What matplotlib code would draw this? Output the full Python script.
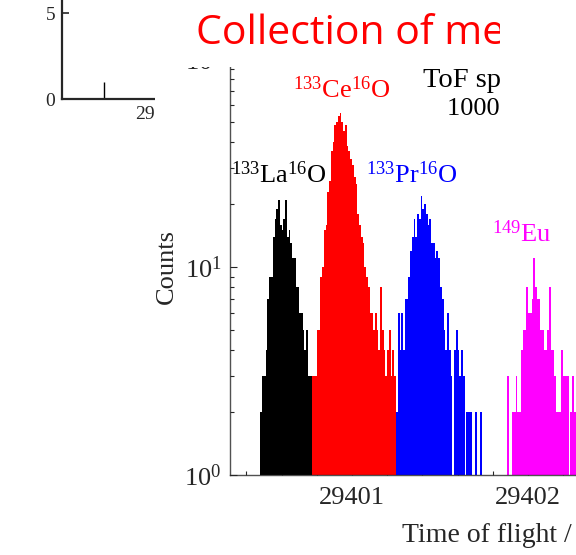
import numpy as np
import matplotlib
matplotlib.use("Agg")
import matplotlib.pyplot as plt
from matplotlib.patches import Rectangle
from matplotlib.ticker import MultipleLocator


# ---------------------------------------------------
# DATA (counts per 0.01 ns bin)
# ---------------------------------------------------
bin_width = 0.01

la_start = 29400.48
la_counts = [2, 3, 3, 4, 7, 9, 9, 14, 17, 19, 21, 16, 15, 17, 21, 14, 15, 13,
             11, 11, 8, 8, 6, 6, 5, 4, 5, 3, 3]

ce_start = 29400.77
ce_counts = [3, 3, 3, 5, 5, 9, 10, 15, 16, 23, 26, 36, 40, 48, 50, 53, 55, 50,
             45, 48, 38, 36, 33, 31, 27, 25, 18, 16, 14, 13, 10, 9, 8, 6, 6, 5,
             6, 5, 4, 8, 5, 4, 3, 4, 5, 3, 4, 3]

pr_start = 29401.25
pr_counts = [2, 6, 4, 6, 4, 7, 7, 9, 12, 14, 17, 14, 18, 17, 22, 19, 20, 18,
             16, 17, 13, 13, 11, 12, 11, 8, 7, 5, 4, 6, 4, 3, 1, 4, 5, 4, 3, 4,
             3, 1, 2, 2, 2, 1, 1, 2, 1, 1, 2, 1]

eu_start = 29401.88
eu_counts = [3, 1, 1, 2, 2, 3, 2, 2, 4, 5, 5, 8, 6, 6, 7, 11, 8, 7, 7, 5, 5, 4,
             4, 5, 8, 4, 4, 3, 2, 2, 2, 4, 3, 3, 3, 1, 2, 3, 2, 2, 2, 1, 2, 1, 1]

# small inset histogram (only one bar visible)
inset_x = [29388.6]
inset_counts = [1]

labels = [r"$^{133}$La$^{16}$O", r"$^{133}$Ce$^{16}$O",
          r"$^{133}$Pr$^{16}$O", r"$^{149}$Eu"]
label_x = [29400.585, 29400.94, 29401.34, 29401.966]
label_y = [25.5, 65.0, 25.5, 13.2]
colors = ["black", "red", "blue", "magenta"]

W, H = 576, 555
DARK = "#262626"


def fx(px):
    return px / W


def fy(py):
    return 1 - py / H


plt.rcParams["font.family"] = ["Liberation Serif", "DejaVu Serif"]
plt.rcParams["mathtext.fontset"] = "custom"
plt.rcParams["mathtext.rm"] = "Liberation Serif"
plt.rcParams["mathtext.it"] = "Liberation Serif:italic"
plt.rcParams["mathtext.bf"] = "Liberation Serif:bold"

fig = plt.figure(figsize=(W / 100, H / 100), dpi=100)

# ---------------------------------------------------
# INSET (partly hidden behind the main plot)
# ---------------------------------------------------
ax_in = fig.add_axes([fx(62), fy(99), 196 / W, 103 / H], zorder=0)
ax_in.vlines(inset_x, 0, inset_counts, color="black", lw=1.0)
ax_in.set_xlim(29380, 29420)
ax_in.set_ylim(0, 6)
ax_in.set_xticks([29400])
ax_in.set_xticklabels(["29400"])
ax_in.set_yticks([0, 5])
for side in ["top", "right"]:
    ax_in.spines[side].set_visible(False)
for side in ["left", "bottom"]:
    ax_in.spines[side].set_linewidth(1.6)
    ax_in.spines[side].set_color(DARK)
ax_in.tick_params(direction="in", length=5, width=1.2, labelsize=14,
                  colors=DARK, pad=5)

# white slide area covering the inset
fig.add_artist(Rectangle((fx(155), 0), 1 - fx(155), 1, transform=fig.transFigure,
                         facecolor="white", edgecolor="none", zorder=1))

# ---------------------------------------------------
# MAIN TOF SPECTRUM
# ---------------------------------------------------
ax = fig.add_axes([fx(230), fy(475), 470 / W, 416 / H], zorder=2)
starts = [la_start, ce_start, pr_start, eu_start]
series = [la_counts, ce_counts, pr_counts, eu_counts]
for start, counts, col in zip(starts, series, colors):
    edges = start + bin_width * np.arange(len(counts) + 1)
    ax.stairs(counts, edges, fill=True, baseline=1, color=col, lw=0, zorder=2)

ax.set_yscale("log")
ax.set_ylim(1, 100)
ax.set_xlim(29400.307, 29402.977)
ax.xaxis.set_major_locator(MultipleLocator(1))
ax.xaxis.set_minor_locator(MultipleLocator(0.2))
ax.xaxis.get_major_formatter().set_useOffset(False)
ax.set_axisbelow(True)
ax.tick_params(which="both", direction="in", colors=DARK, labelsize=19,
               top=True, right=True)
ax.tick_params(which="major", length=5, width=0.8)
ax.tick_params(which="minor", length=2.8, width=0.8)
ax.tick_params(axis="x", pad=9)
ax.tick_params(axis="y", pad=6)
for sp in ax.spines.values():
    sp.set_color(DARK)
    sp.set_linewidth(1.0)
    sp.set_alpha(0.8)

ax.set_ylabel("Counts", fontsize=19, color=DARK)
ax.yaxis.label.set_verticalalignment("center")
ax.yaxis.set_label_coords(-0.134, 0.5)
ax.set_xlabel("Time of flight / ns", fontsize=20, color=DARK)
ax.xaxis.label.set_horizontalalignment("left")
ax.xaxis.label.set_verticalalignment("baseline")
ax.xaxis.set_label_coords(0.366, -(542 - 475) / 416)

for txt, x, y, col in zip(labels, label_x, label_y, colors):
    ax.text(x, y, txt, color=col, fontsize=19, ha="center", va="baseline")

ax.text(fx(423), fy(87), "ToF spectrum", transform=fig.transFigure,
        fontsize=20.5, color="black", va="baseline")
ax.text(fx(447), fy(115), "1000 revs", transform=fig.transFigure,
        fontsize=19, color="black", va="baseline")

# ---------------------------------------------------
# SLIDE TITLE
# ---------------------------------------------------
fig.add_artist(Rectangle((fx(155), fy(67)), 1 - fx(155), 67 / H,
                         transform=fig.transFigure, facecolor="white",
                         edgecolor="none", zorder=3))
fig.text(fx(196), fy(44), "Collection of measurements", color="red",
         fontsize=29.5, family="Open Sans", va="baseline", zorder=4)
fig.add_artist(Rectangle((fx(500), fy(125)), 1 - fx(500), 125 / H,
                         transform=fig.transFigure, facecolor="white",
                         edgecolor="none", zorder=5))

fig.savefig("out.png", dpi=100)
